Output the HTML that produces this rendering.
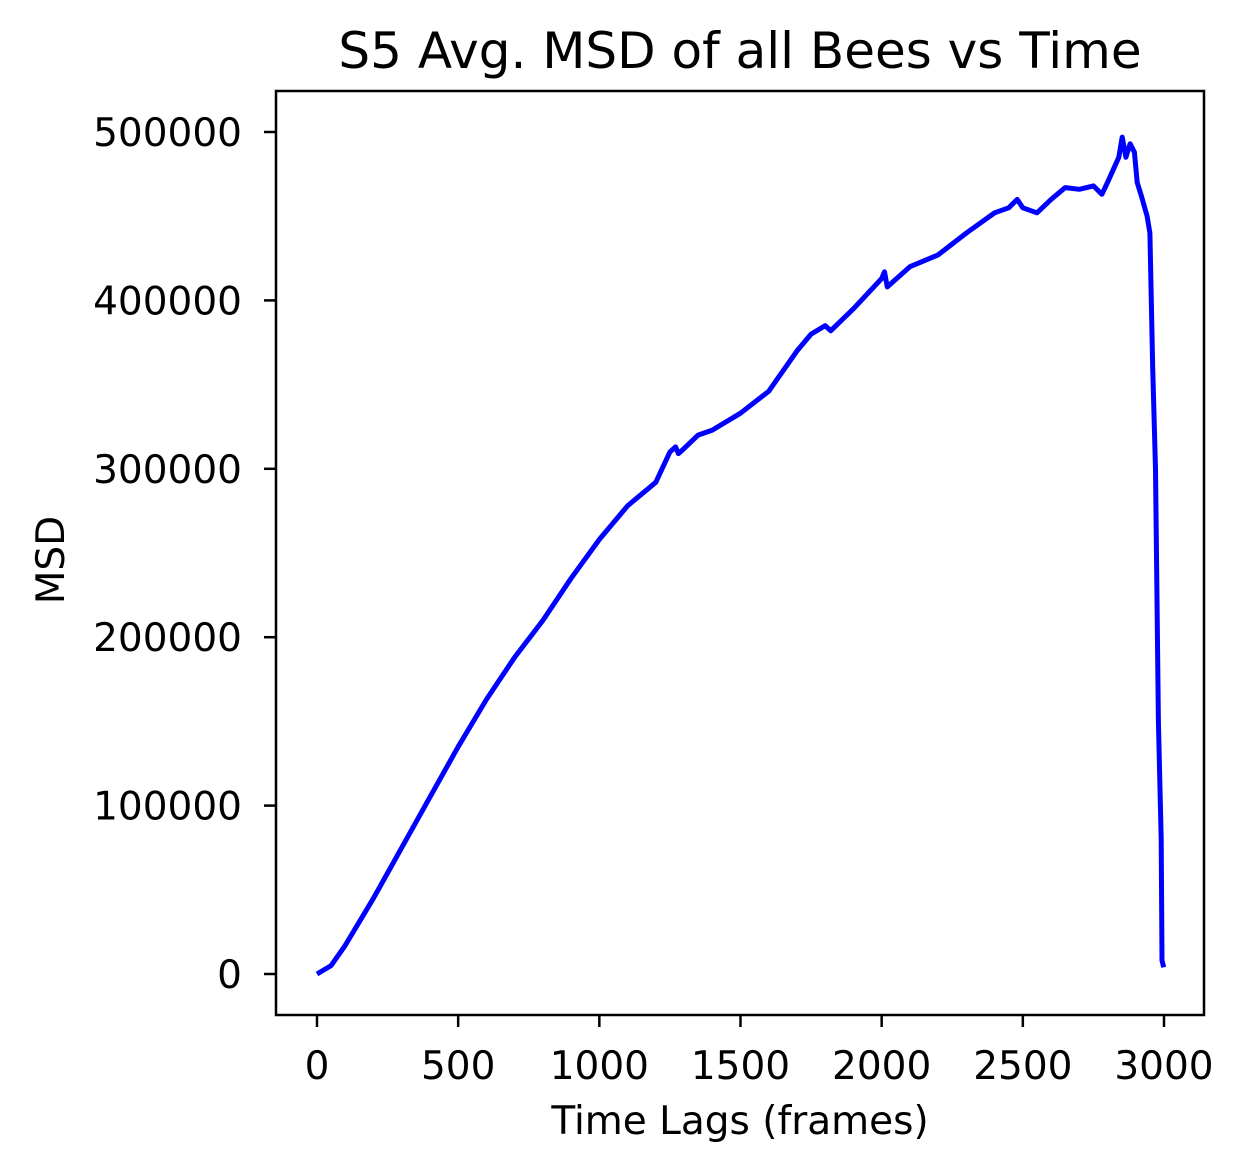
<!DOCTYPE html>
<html><head><meta charset="utf-8"><style>
body{margin:0;background:#fff;}
svg{display:block;font-family:"DejaVu Sans","Liberation Sans",sans-serif;}
</style></head><body>
<svg id="chart" width="1246" height="1172" viewBox="0 0 1246 1172" xmlns="http://www.w3.org/2000/svg">
<rect width="1246" height="1172" fill="#fff"/>
<text x="740" y="68" font-size="50" text-anchor="middle" fill="#000">S5 Avg. MSD of all Bees vs Time</text>
<g id="xt"></g><g id="yt"></g>
<path id="line" fill="none" stroke="#0000ff" stroke-width="5" stroke-linejoin="round"/>
<rect x="276" y="91" width="928" height="924" fill="none" stroke="#000" stroke-width="2.5"/>
<text x="740" y="1134" font-size="39" text-anchor="middle">Time Lags (frames)</text>
<text transform="translate(64,560) rotate(-90)" font-size="39" text-anchor="middle">MSD</text>
</svg>
<script>
const frames=[0,50,100,200,300,400,500,600,700,800,900,1000,1100,1200,1250,1270,1280,1300,1350,1400,1500,1600,1700,1750,1800,1820,1900,2000,2010,2020,2100,2200,2300,2400,2450,2480,2500,2550,2600,2650,2700,2750,2780,2800,2840,2852,2865,2880,2895,2905,2920,2940,2950,2960,2970,2980,2990,2993,2999];
const msd=[0,5000,17000,45000,75000,105000,135000,163000,188000,210000,235000,258000,278000,292000,310000,313000,309000,312000,320000,323000,333000,346000,370000,380000,385000,382000,395000,413000,417000,408000,420000,427000,440000,452000,455000,460000,455000,452000,460000,467000,466000,468000,463000,470000,485000,497000,485000,493000,488000,470000,462000,450000,440000,360000,300000,150000,80000,8000,4000];
const xTicks=[0,500,1000,1500,2000,2500,3000];
const yTicks=[0,100000,200000,300000,400000,500000];
const NS="http://www.w3.org/2000/svg";
function sx(v){return 317+v*(1164-317)/3000;}
function sy(v){return 974-v*(974-132)/500000;}
let d="";
frames.forEach((f,i)=>{d+=(i?"L":"M")+sx(f).toFixed(1)+","+sy(msd[i]).toFixed(1);});
document.getElementById("line").setAttribute("d",d);
const xt=document.getElementById("xt"),yt=document.getElementById("yt");
xTicks.forEach(t=>{
 const l=document.createElementNS(NS,"line");
 
 
 l.setAttribute("x1",sx(t));l.setAttribute("x2",sx(t));l.setAttribute("y1",1015);l.setAttribute("y2",1027);l.setAttribute("stroke","#000");l.setAttribute("stroke-width","2.5");
 xt.appendChild(l);
 const s=document.createElementNS(NS,"text");
 
 
 s.setAttribute("x",sx(t));s.setAttribute("y",1079);s.setAttribute("font-size","39");s.setAttribute("text-anchor","middle");
 s.textContent=t;xt.appendChild(s);
});
yTicks.forEach(t=>{
 const l=document.createElementNS(NS,"line");
 
 
 l.setAttribute("x1",264);l.setAttribute("x2",276);l.setAttribute("y1",sy(t));l.setAttribute("y2",sy(t));l.setAttribute("stroke","#000");l.setAttribute("stroke-width","2.5");
 yt.appendChild(l);
 const s=document.createElementNS(NS,"text");
 
 
 s.setAttribute("x",242);s.setAttribute("y",sy(t)+14);s.setAttribute("font-size","39");s.setAttribute("text-anchor","end");
 s.textContent=t;yt.appendChild(s);
});
</script>
</body></html>
